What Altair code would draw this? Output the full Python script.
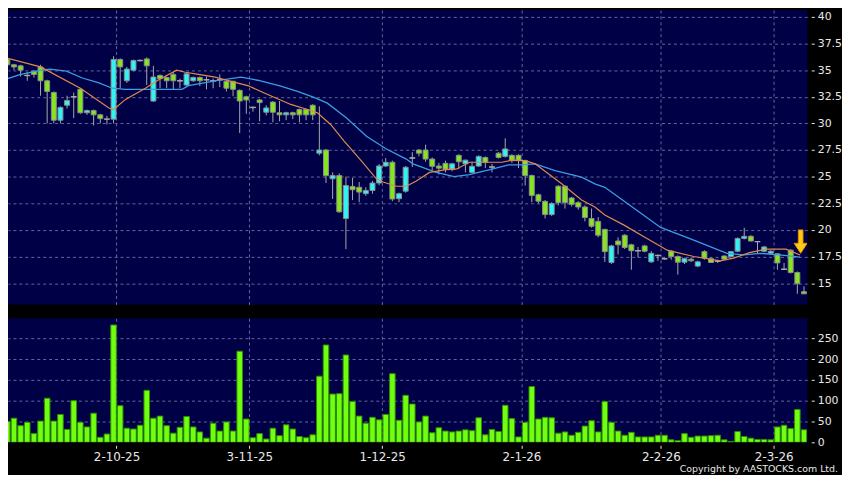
import altair as alt
import pandas as pd

# ---- candle data (index 0..120, trading days) ----
opens = [36.0, 35.5, 35.4, 34.5, 34.9, 35.3, 34.0, 32.9, 30.3, 31.7,
         32.5, 33.2, 31.0, 31.2, 30.8, 30.4, 30.4, 36.0, 34.0, 35.0,
         35.9, 36.05, 32.1, 34.5, 34.3, 34.6, 34.0, 33.6, 34.0, 34.3,
         34.1, 34.0, 34.1, 33.95, 33.95, 33.1, 32.5, 31.5, 32.2, 31.05,
         32.0, 31.0, 30.8, 31.0, 31.3, 31.3, 31.7, 27.2, 27.5, 24.8,
         25.1, 21.07, 24.08, 24.0, 23.4, 23.7, 24.4, 26.0, 26.35, 22.93,
         23.64, 26.75, 27.5, 27.5, 26.65, 26.0, 26.25, 25.7, 27.0, 26.2,
         25.4, 26.0, 26.8, 25.9, 27.2, 26.9, 27.0, 27.0, 26.5, 25.1,
         23.3, 22.68, 21.44, 24.1, 24.1, 23.0, 22.56, 22.15, 21.07, 20.8,
         20.05, 16.94, 18.96, 19.5, 18.6, 18.05, 18.5, 17.0, 17.6, 17.3,
         18.0, 17.5, 16.97, 17.25, 16.6, 17.96, 17.3, 17.05, 17.55, 17.5,
         18.0, 19.2, 19.4, 18.9, 18.0, 17.8, 17.75, 16.3, 18.1, 16.0,
         14.2]
highs = [36.2, 35.6, 35.5, 34.8, 35.0, 35.5, 34.1, 33.0, 31.6, 32.6,
         32.9, 33.3, 31.3, 31.3, 30.9, 30.7, 36.3, 36.1, 35.3, 36.0,
         36.0, 36.2, 35.4, 34.6, 34.4, 34.8, 34.2, 34.7, 34.4, 34.4,
         34.4, 34.2, 34.6, 34.0, 34.0, 33.2, 32.6, 31.6, 32.3, 31.7,
         32.1, 32.1, 31.1, 31.1, 31.4, 31.4, 31.8, 31.6, 27.6, 25.4,
         25.3, 25.0, 24.9, 24.5, 24.0, 24.6, 26.2, 26.75, 26.5, 23.5,
         26.0, 27.3, 27.6, 28.0, 26.8, 26.3, 26.5, 26.3, 27.1, 26.6,
         26.4, 27.0, 26.9, 26.2, 27.3, 28.6, 27.1, 27.1, 26.6, 25.2,
         23.4, 22.8, 22.6, 24.2, 24.2, 23.1, 22.7, 22.3, 22.0, 21.2,
         20.1, 18.6, 19.3, 19.6, 18.7, 18.4, 18.6, 18.0, 17.7, 17.4,
         18.1, 17.6, 17.4, 17.4, 17.1, 18.1, 17.4, 17.2, 17.6, 18.0,
         19.3, 20.2, 19.5, 18.9, 18.5, 18.1, 17.8, 16.9, 18.2, 16.1,
         14.7]
lows = [35.3, 35.0, 34.4, 34.0, 34.3, 32.6, 30.0, 30.0, 30.0, 31.4,
        30.5, 30.9, 30.8, 29.8, 30.0, 29.9, 30.0, 33.3, 33.8, 34.9,
        35.8, 33.6, 32.0, 33.3, 33.3, 33.2, 33.3, 33.5, 33.9, 33.5,
        33.2, 33.3, 33.4, 33.0, 32.55, 29.1, 30.9, 31.1, 30.2, 30.75,
        30.1, 30.2, 30.3, 30.4, 30.1, 30.3, 30.3, 27.0, 24.4, 22.9,
        21.6, 18.2, 22.8, 22.6, 23.2, 23.4, 24.2, 25.9, 22.7, 22.6,
        23.5, 25.9, 26.9, 26.4, 25.6, 25.2, 25.4, 25.5, 25.7, 25.4,
        25.3, 25.9, 25.8, 25.4, 26.7, 26.8, 26.3, 25.8, 24.17, 22.6,
        22.5, 21.07, 21.3, 22.3, 22.0, 22.2, 21.9, 20.8, 20.2, 19.3,
        17.0, 16.8, 17.7, 18.2, 16.26, 17.4, 17.9, 16.9, 17.1, 17.2,
        17.2, 15.8, 16.8, 17.0, 16.5, 17.2, 16.9, 16.9, 17.2, 17.4,
        17.9, 19.1, 18.9, 17.8, 17.9, 17.7, 16.26, 16.3, 15.9, 14.0,
        14.0]
closes = [35.5, 35.3, 35.0, 34.5, 34.6, 34.0, 33.0, 30.3, 31.5, 32.15,
          32.5, 31.0, 31.2, 30.8, 30.45, 30.4, 36.0, 35.3, 35.1, 35.9,
          35.9, 35.4, 34.35, 34.2, 34.0, 34.0, 34.0, 34.65, 34.3, 34.0,
          34.1, 34.0, 34.1, 33.3, 33.2, 32.1, 32.2, 31.5, 31.95, 31.45,
          31.05, 30.8, 31.0, 30.8, 30.8, 30.8, 30.8, 27.5, 25.1, 25.1,
          21.7, 24.17, 23.77, 23.55, 23.7, 24.4, 26.0, 26.35, 22.9, 23.4,
          25.88, 26.75, 27.2, 26.65, 25.97, 25.8, 25.7, 26.2, 26.4, 26.55,
          25.97, 26.9, 26.35, 25.9, 26.8, 27.6, 26.5, 26.5, 25.1, 23.24,
          22.7, 21.44, 22.47, 22.56, 22.56, 22.4, 22.15, 21.16, 20.35, 19.5,
          17.96, 18.5, 18.6, 18.35, 18.05, 18.05, 18.0, 17.8, 17.6, 17.3,
          17.5, 16.97, 17.3, 17.1, 17.0, 17.35, 16.94, 17.05, 17.25, 17.96,
          19.2, 19.4, 18.96, 18.9, 18.4, 18.0, 16.9, 16.3, 16.0, 14.95,
          14.0]
volumes = [50, 58, 40, 48, 21, 51, 106, 51, 67, 31,
           100, 48, 37, 70, 12, 20, 282, 88, 34, 32,
           41, 125, 58, 63, 40, 22, 36, 62, 37, 25,
           10, 46, 27, 49, 27, 219, 56, 11, 21, 8,
           34, 16, 42, 32, 14, 11, 18, 159, 234, 116,
           117, 210, 98, 63, 46, 60, 54, 67, 165, 53,
           113, 92, 49, 63, 23, 35, 27, 25, 27, 30,
           28, 59, 18, 31, 26, 89, 57, 13, 48, 134,
           56, 60, 59, 22, 25, 17, 24, 39, 52, 25,
           98, 48, 27, 17, 24, 13, 13, 13, 17, 17,
           6, 4, 21, 12, 15, 15, 16, 17, 6, 2,
           26, 14, 10, 7, 7, 6, 37, 41, 33, 79,
           30]

# ---- moving averages (bar index, price) ----
ma_fast_idx = [-0.5, 5, 11, 15.3, 16, 17.8, 20.8, 22.8, 25.5, 26.8, 28.8, 31.3,
               33.7, 36.2, 38.7, 42.7, 45.2, 46.7, 48.7, 50.7, 53.1, 55.6, 56.6,
               58.6, 60.1, 61.6, 63.6, 66.1, 67.6, 69.6, 72, 74.5, 76, 78, 79.5,
               83.5, 86.5, 88.5, 90, 92.9, 95.9, 99.4, 103.4, 107.4, 109.4, 111.8,
               114.3, 117.3, 119.4]
ma_fast_val = [36.2, 35.3, 33.3, 31.45, 31.3, 32.25, 33.3, 34.1, 35.0, 34.8, 34.6,
               34.35, 33.95, 33.55, 32.86, 31.78, 31.3, 31.0, 29.9, 28.36, 26.65,
               24.8, 24.5, 24.1, 24.1, 24.6, 25.4, 25.66, 25.7, 26.35, 26.35, 26.35,
               26.55, 26.5, 26.2, 24.33, 22.8, 22.15, 21.4, 20.45, 19.36, 18.1, 17.5,
               17.1, 17.35, 17.87, 18.2, 18.2, 17.65]
ma_slow_idx = [-0.5, 1.9, 4.9, 6.4, 8.9, 11.3, 13.8, 15.8, 17.8, 22.3, 26.3, 27.3,
               31.3, 35.2, 37.7, 41.2, 43.7, 46.2, 48.2, 51.1, 54.1, 57.1, 60.1,
               61.1, 64.6, 67.3, 69.6, 73, 75.5, 77.5, 79.5, 82.5, 86.5, 88.5, 90,
               93.4, 98.4, 103.4, 108.4, 110.9, 113.4, 116.3, 119.4]
ma_slow_val = [34.1, 34.57, 34.97, 35.1, 34.9, 34.26, 33.8, 33.3, 33.2, 33.2, 33.2,
               33.55, 34.0, 34.35, 34.05, 33.5, 33.0, 32.45, 31.9, 30.5, 28.8, 27.6,
               26.65, 26.2, 25.4, 25.0, 25.2, 25.7, 26.1, 26.1, 26.2, 25.57, 24.95,
               24.33, 24.0, 22.47, 20.23, 19.05, 17.8, 17.65, 17.8, 17.65, 17.44]

signal_idx = [119.5]
signal_val = [18.9]

date_idx = [16, 36, 56, 77, 98, 115]
date_labels = ["2-10-25", "3-11-25", "1-12-25", "2-1-26", "2-2-26", "2-3-26"]
price_ticks = [15, 17.5, 20, 22.5, 25, 27.5, 30, 32.5, 35, 37.5, 40]
volume_ticks = [0, 50, 100, 150, 200, 250]
copyright_text = ["Copyright by AASTOCKS.com Ltd."]

# ---- tables ----
n = len(opens)
df = pd.DataFrame({
    "i": list(range(n)), "open": opens, "high": highs, "low": lows,
    "close": closes, "volume": volumes,
})
df["dir"] = ["up" if c > o else ("down" if c < o else "flat") for o, c in zip(opens, closes)]
ma_fast = pd.DataFrame({"i": ma_fast_idx, "v": ma_fast_val})
ma_slow = pd.DataFrame({"i": ma_slow_idx, "v": ma_slow_val})
signal = pd.DataFrame({"i": signal_idx, "v": signal_val})
copy_df = pd.DataFrame({"t": copyright_text})

# ---- style ----
FONT = "DejaVu Sans"
LABEL = "#e8e8e8"
GRID = "#66669a"
NAVY = "#000046"
UP = "#2ff4f4"
DOWN = "#84e61c"
EDGE = "#8c8c8c"
WICK = "#a8a8a8"
VOL = "#70ff10"
VOL_EDGE = "#2f8f00"

grid_pos = [d + 0.45 for d in date_idx]
expr = "''"
for p, lab in reversed(list(zip(grid_pos, date_labels))):
    expr = f"abs(datum.value - {p}) < 0.5 ? '{lab}' : {expr}"

x_scale = alt.Scale(domain=[0.1, 120.5], nice=False, zero=False, padding=0)
x_axis_top = alt.Axis(values=grid_pos, labels=False, ticks=False, domain=False,
                      grid=True, gridColor=GRID, gridDash=[3, 3], title=None)
x_axis_bot = alt.Axis(values=grid_pos, labelExpr=expr, domain=False, grid=True,
                      gridColor=GRID, gridDash=[3, 3], ticks=True, tickSize=3,
                      tickColor=LABEL, offset=3, labelPadding=3, labelColor=LABEL,
                      labelFont=FONT, labelFontSize=12, title=None)

p_scale = alt.Scale(domain=[13.0, 40.65], nice=False, zero=False, padding=0)
p_axis = alt.Axis(orient="right", values=price_ticks, format=".3~g", grid=True,
                  gridColor=GRID, gridDash=[3, 3], domain=False, tickSize=3,
                  tickColor=LABEL, offset=4, labelPadding=3, labelColor=LABEL,
                  labelFont=FONT, labelFontSize=11, title=None)
v_scale = alt.Scale(domain=[0, 298], nice=False, padding=0)
v_axis = alt.Axis(orient="right", values=volume_ticks, grid=True, gridColor=GRID,
                  gridDash=[3, 3], domain=False, tickSize=3, tickColor=LABEL,
                  offset=4, labelPadding=3, labelColor=LABEL, labelFont=FONT,
                  labelFontSize=11, title=None,
                  gridOpacity={"condition": {"test": "datum.value == 0", "value": 0}, "value": 1})

def X(field, axis):
    return alt.X(f"{field}:Q", scale=x_scale, axis=axis)

base = alt.Chart(df)
wicks = base.mark_rule(color=WICK, strokeWidth=1, clip=True).encode(
    x=X("i", x_axis_top), y=alt.Y("low:Q", scale=p_scale, axis=p_axis), y2="high:Q")
bodies = base.mark_bar(size=5, stroke=EDGE, strokeWidth=1, clip=True).encode(
    x=X("i", x_axis_top), y=alt.Y("open:Q", scale=p_scale, axis=p_axis), y2="close:Q",
    fill=alt.Fill("dir:N", scale=alt.Scale(domain=["up", "down", "flat"],
                                           range=[UP, DOWN, WICK]), legend=None))
dojis = base.transform_filter("datum.open == datum.close").mark_tick(
    orient="horizontal", size=6, thickness=1.5, color="#b4b4b4", clip=True).encode(
    x=X("i", x_axis_top), y=alt.Y("open:Q", scale=p_scale, axis=p_axis))
line_fast = alt.Chart(ma_fast).mark_line(color="#e0894f", strokeWidth=1.2, clip=True).encode(
    x=X("i", x_axis_top), y=alt.Y("v:Q", scale=p_scale, axis=p_axis))
line_slow = alt.Chart(ma_slow).mark_line(color="#3a9ee0", strokeWidth=1.3, clip=True).encode(
    x=X("i", x_axis_top), y=alt.Y("v:Q", scale=p_scale, axis=p_axis))
arrow = alt.Chart(signal).mark_point(
    shape="M-0.2,-1 L0.2,-1 L0.2,0.14 L0.56,0.14 L0,1 L-0.56,0.14 L-0.2,0.14 Z",
    filled=True, fill="#ffcc11", stroke="#e08a00", strokeWidth=1, size=560, opacity=1,
    clip=True).encode(
    x=X("i", x_axis_top), y=alt.Y("v:Q", scale=p_scale, axis=p_axis))

price = alt.layer(wicks, bodies, dojis, line_slow, line_fast, arrow).properties(
    width=806, height=297)

vol_bars = base.mark_bar(size=5.6, fill=VOL, stroke=VOL_EDGE, strokeWidth=1, clip=True).encode(
    x=X("i", x_axis_bot), y=alt.Y("volume:Q", scale=v_scale, axis=v_axis))
copy_txt = alt.Chart(copy_df).mark_text(
    align="right", baseline="alphabetic", font=FONT, fontSize=9.5, color=LABEL).encode(
    x=alt.value(837), y=alt.value(154.5), text="t:N")
volume = alt.layer(vol_bars, copy_txt).properties(width=806, height=125)

chart = alt.vconcat(price, volume, spacing=14).properties(
    padding=0, background="#000000").configure_view(fill=NAVY, stroke=None)

chart.save("out.html", embed_options={"renderer": "svg", "actions": False})
